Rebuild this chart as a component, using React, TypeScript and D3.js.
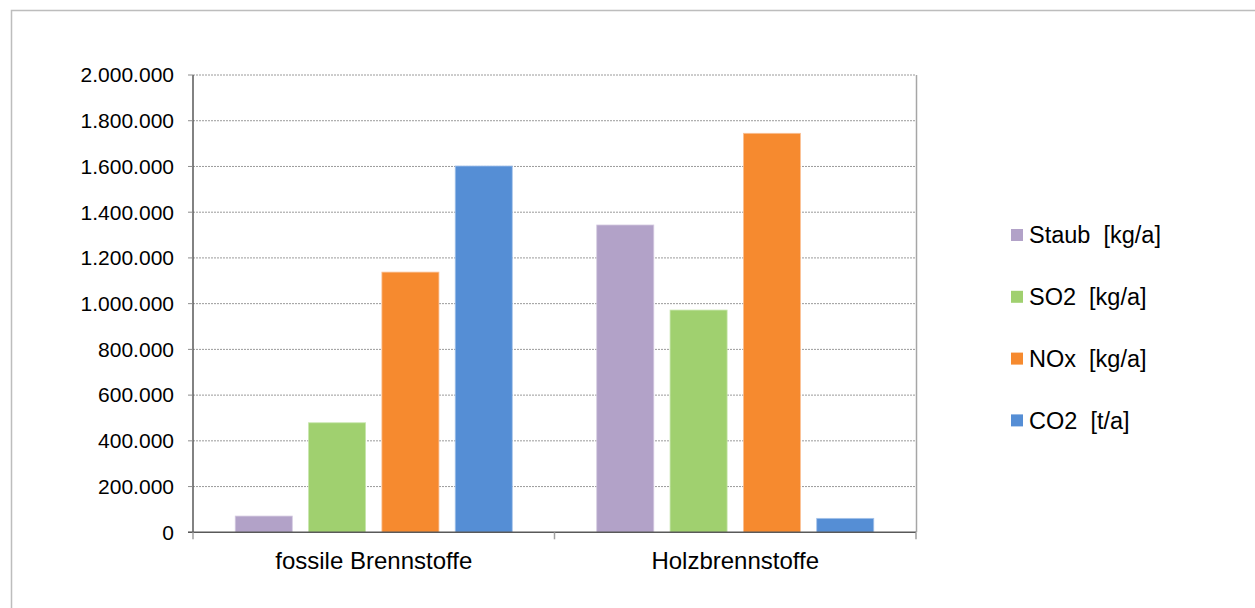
import React from "react";
import * as d3 from "d3";

const categories = ["fossile Brennstoffe", "Holzbrennstoffe"];
const seriesNames = ["Staub  [kg/a]", "SO2  [kg/a]", "NOx  [kg/a]", "CO2  [t/a]"];
const seriesColors = ["#b2a2c8", "#a0d06f", "#f68a2f", "#558ed5"];
const seriesStrokes = ["#d4c9e0", "#c8e6ad", "#fac196", "#a5c3ea"];
const staub = [71000, 1344000];
const so2 = [479000, 972000];
const nox = [1138000, 1745000];
const co2 = [1602000, 61000];
const yTicks = [0, 200000, 400000, 600000, 800000, 1000000, 1200000, 1400000, 1600000, 1800000, 2000000];

const W = 1255;
const H = 608;
const left = 193;
const right = 916;
const top = 75;
const bottom = 532.3;

export default function App() {
  const values = [staub, so2, nox, co2];
  const x0 = d3.scaleBand<string>().domain(categories).range([left, right]).paddingInner(0).paddingOuter(0);
  const x1 = d3
    .scaleBand<string>()
    .domain(seriesNames)
    .range([0, x0.bandwidth()])
    .paddingInner(0.222)
    .paddingOuter(0.576);
  const y = d3.scaleLinear().domain([0, 2000000]).range([bottom, top]);
  const locale = d3.formatLocale({ decimal: ",", thousands: ".", grouping: [3], currency: ["", "€"] });
  const fmt = locale.format(",d");
  const font = "Liberation Sans, Arial, sans-serif";

  const boundaries = [left, ...categories.map((c) => (x0(c) as number) + x0.bandwidth())];

  return (
    <svg width={W} height={H} style={{ position: "absolute", left: 0, top: 0 }} fontFamily={font}>
      <rect x={0} y={0} width={W} height={H} fill="#fff" />
      <rect x={11.5} y={10.5} width={W + 20} height={H + 20} fill="none" stroke="#bdbdbd" strokeWidth={1.5} />
      {yTicks.filter((t) => t > 0).map((t) => (
        <line key={"g" + t} x1={left} x2={right} y1={y(t)} y2={y(t)} stroke="#9a9a9a" strokeWidth={1} strokeDasharray="2,1" />
      ))}
      <line x1={right + 0.5} x2={right + 0.5} y1={top} y2={bottom} stroke="#a6a6a6" strokeWidth={1.5} />
      {categories.map((c, ci) =>
        seriesNames.map((s, si) => {
          const bx = (x0(c) as number) + (x1(s) as number);
          const v = values[si][ci];
          return (
            <rect
              key={c + s}
              x={bx}
              y={y(v)}
              width={x1.bandwidth()}
              height={bottom - y(v)}
              fill={seriesColors[si]}
              stroke={seriesStrokes[si]}
              strokeWidth={0.8}
            />
          );
        })
      )}
      <line x1={left} x2={left} y1={top} y2={bottom} stroke="#595959" strokeWidth={1.5} />
      {yTicks.map((t) => (
        <g key={"t" + t}>
          <line x1={left - 5} x2={left} y1={y(t)} y2={y(t)} stroke="#8c8c8c" strokeWidth={1} />
          <text x={174} y={y(t)} dy="0.35em" textAnchor="end" fontSize={21} fill="#000">
            {fmt(t)}
          </text>
        </g>
      ))}
      <line x1={left - 5} x2={right} y1={bottom} y2={bottom} stroke="#595959" strokeWidth={1.5} />
      {boundaries.map((b, i) => (
        <line key={"b" + i} x1={b} x2={b} y1={bottom} y2={bottom + 7} stroke="#a0a0a0" strokeWidth={1.5} />
      ))}
      {categories.map((c) => (
        <text
          key={"c" + c}
          x={(x0(c) as number) + x0.bandwidth() / 2}
          y={569}
          textAnchor="middle"
          fontSize={24}
          fill="#000"
        >
          {c}
        </text>
      ))}
      {seriesNames.map((s, i) => {
        const cy = 235 + i * 61.8;
        return (
          <g key={"l" + s}>
            <rect x={1011} y={cy - 6} width={12} height={12} fill={seriesColors[i]} />
            <text x={1029} y={cy} dy="0.35em" fontSize={23.5} fill="#000" style={{ whiteSpace: "pre" }}>
              {s}
            </text>
          </g>
        );
      })}
    </svg>
  );
}
